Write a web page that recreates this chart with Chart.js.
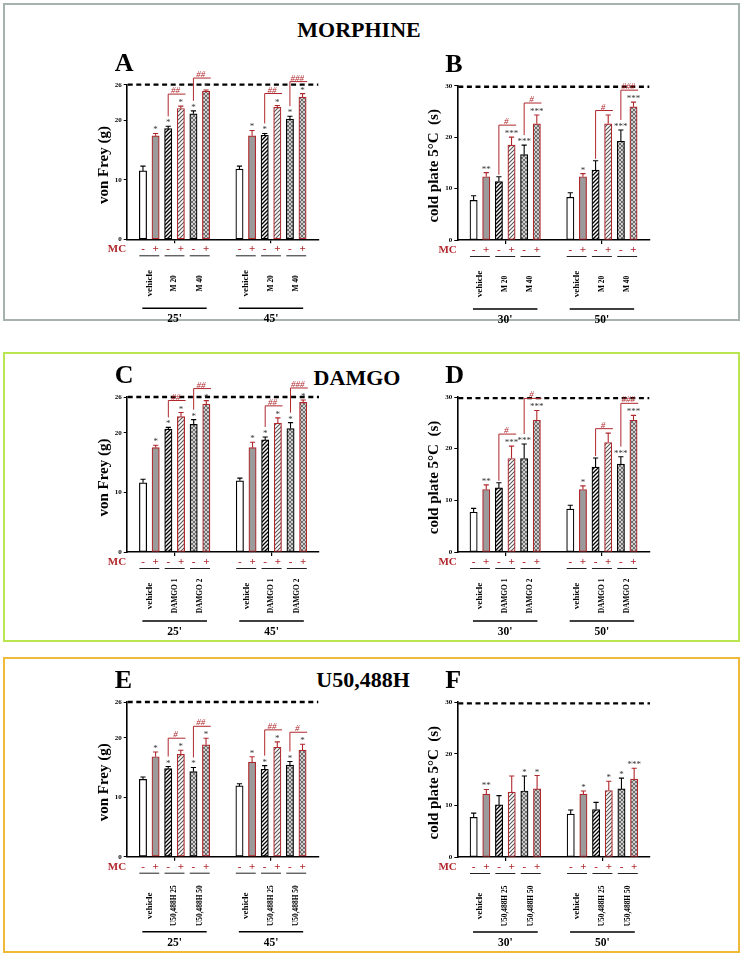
<!DOCTYPE html>
<html><head><meta charset="utf-8">
<script src="https://cdn.jsdelivr.net/npm/chart.js@4.4.0/dist/chart.umd.min.js"></script>
<style>
html,body{margin:0;padding:0;background:#fff}
body{width:743px;height:957px;position:relative;overflow:hidden;font-family:"Liberation Serif",serif}
.box{position:absolute;box-sizing:border-box;border:2px solid}
.title{position:absolute;font:bold 22px "Liberation Serif",serif;transform:translateX(-50%);white-space:nowrap;line-height:22px;color:#000}
canvas{position:absolute}
</style></head><body>
<div class="box" style="left:3px;top:3px;width:737px;height:318px;border-color:#a6b2b0"></div>
<div class="box" style="left:3px;top:352px;width:737px;height:290px;border-color:#b9e650"></div>
<div class="box" style="left:3px;top:657px;width:737px;height:296px;border-color:#efb93a"></div>
<div class="title" style="left:359px;top:19px">MORPHINE</div>
<div class="title" style="left:357px;top:367px">DAMGO</div>
<div class="title" style="left:363px;top:669px">U50,488H</div>
<script>
// ---------- data ----------
const mcSigns = ['-', '+', '-', '+', '-', '+'];
const groupsVonFrey = ["25'", "45'"];
const groupsColdPlate = ["30'", "50'"];
const morphineLabels = ['vehicle', 'M 20', 'M 40'];
const damgoLabels = ['vehicle', 'DAMGO 1', 'DAMGO 2'];
const u50Labels = ['vehicle', 'U50,488H 25', 'U50,488H 50'];
const vonFreyTicks = [0, 10, 20, 26];
const coldPlateTicks = [0, 10, 20, 30];
const vonFreyCutoff = 26;
const coldPlateCutoff = 29.8;

// A: morphine, von Frey
const aMeans = [11.5, 17.4, 18.6, 22.0, 21.1, 24.9, 11.8, 17.4, 17.5, 22.2, 20.2, 23.9];
const aSem   = [0.8, 0.4, 0.4, 0.4, 0.5, 0.2, 0.5, 0.9, 0.3, 0.3, 0.5, 0.6];
const aStars = ['', '*', '*', '*', '*', '*', '', '*', '*', '*', '*', '*'];
const aHashes = ['##', '##', '##', '###'];
// B: morphine, cold plate
const bMeans = [7.7, 12.3, 11.35, 18.45, 16.6, 22.6, 8.3, 12.3, 13.6, 22.6, 19.2, 25.9];
const bSem   = [0.9, 0.8, 0.95, 1.55, 1.85, 1.7, 0.9, 0.6, 1.8, 1.7, 2.2, 0.9];
const bStars = ['', '**', '', '***', '***', '***', '', '*', '', '', '***', '***'];
const bHashes = ['#', '#', '#', '###'];
// C: DAMGO, von Frey
const cMeans = [11.6, 17.5, 20.6, 22.7, 21.4, 24.8, 11.95, 17.5, 18.8, 21.6, 20.7, 25.1];
const cSem   = [0.6, 0.4, 0.3, 0.7, 0.8, 0.6, 0.45, 0.9, 0.5, 0.9, 1.0, 0.4];
const cStars = ['', '*', '*', '*', '*', '*', '', '*', '*', '*', '*', '*'];
const cHashes = ['##', '##', '##', '###'];
// D: DAMGO, cold plate
const dMeans = [7.7, 12.1, 12.4, 18.1, 18.1, 25.5, 8.3, 12.1, 16.45, 21.2, 17.0, 25.5];
const dSem   = [0.75, 0.9, 1.0, 2.4, 2.8, 1.9, 0.75, 0.7, 1.75, 1.8, 1.45, 0.95];
const dStars = ['', '**', '', '***', '***', '***', '', '*', '', '', '***', '***'];
const dHashes = ['#', '#', '#', '###'];
// E: U50,488H, von Frey
const eMeans = [13.0, 16.8, 14.8, 17.2, 14.3, 18.8, 11.9, 15.9, 14.7, 18.4, 15.4, 17.9];
const eSem   = [0.4, 0.8, 0.35, 0.7, 0.7, 1.1, 0.35, 0.9, 0.6, 0.9, 0.6, 1.0];
const eStars = ['', '*', '*', '*', '*', '*', '', '*', '*', '*', '*', '*'];
const eHashes = ['#', '##', '##', '#'];
// F: U50,488H, cold plate
const fMeans = [7.7, 12.2, 10.1, 12.6, 12.8, 13.2, 8.3, 12.2, 9.2, 12.9, 13.2, 15.1];
const fSem   = [0.8, 0.9, 1.8, 3.1, 2.9, 2.6, 0.8, 0.6, 1.4, 1.8, 2.1, 2.1];
const fStars = ['', '**', '', '', '*', '*', '', '*', '', '*', '*', '***'];
const fHashes = ['', '', '', ''];

// ---------- layout / style ----------
const RED = '#b0282d';
const GRAY = '#9b9b9b';
const SERIF = '"Liberation Serif", "Times New Roman", serif';
const STRIDE = 7.65;      // slots between first bars of the two time groups
const BAR_W = 7.3;
const Y_W = 20;

function slot(i) { return (i % 6) + Math.floor(i / 6) * STRIDE; }

function makePattern(kind) {
  const c = document.createElement('canvas');
  c.width = 4; c.height = 4;
  const g = c.getContext('2d');
  if (kind === 'cross') {
    g.fillStyle = '#cfcfcf'; g.fillRect(0, 0, 4, 4);
    g.strokeStyle = '#555'; g.lineWidth = 0.8;
    g.beginPath();
    g.moveTo(-1, 5); g.lineTo(5, -1); g.moveTo(-1, 1); g.lineTo(1, -1); g.moveTo(3, 5); g.lineTo(5, 3);
    g.moveTo(-1, -1); g.lineTo(5, 5); g.moveTo(3, -1); g.lineTo(5, 1); g.moveTo(-1, 3); g.lineTo(1, 5);
    g.stroke();
  } else {
    g.fillStyle = '#fff'; g.fillRect(0, 0, 4, 4);
    g.strokeStyle = kind === 'stripeBlack' ? '#000' : '#555';
    g.lineWidth = kind === 'stripeBlack' ? 1.3 : 1.1;
    g.beginPath();
    g.moveTo(-1, 5); g.lineTo(5, -1); g.moveTo(-1, 1); g.lineTo(1, -1); g.moveTo(3, 5); g.lineTo(5, 3);
    g.stroke();
  }
  return g.createPattern(c, 'repeat');
}
const patStripeBlack = makePattern('stripeBlack');
const patStripeGray = makePattern('stripeGray');
const patCross = makePattern('cross');

function fillFor(i) {
  const j = i % 6, kind = Math.floor(j / 2), mc = j % 2;
  if (kind === 0) return mc ? GRAY : '#ffffff';
  if (kind === 1) return mc ? patStripeGray : patStripeBlack;
  return patCross;
}
function lineFor(i) { return (i % 2) ? RED : '#000'; }

const panels = [
  {letter: 'A', canvas: [60, 42, 290, 285], area: [126.7, 84.7, 318.3, 239.3], means: aMeans, sem: aSem, stars: aStars, hashes: aHashes,
   ticks: vonFreyTicks, cutoff: vonFreyCutoff, yTitle: 'von Frey (g)', labels: morphineLabels, groups: groupsVonFrey, labOff: 44, lineOff: 69},
  {letter: 'B', canvas: [390, 42, 300, 285], area: [457.3, 85.7, 649.3, 240], means: bMeans, sem: bSem, stars: bStars, hashes: bHashes,
   ticks: coldPlateTicks, cutoff: coldPlateCutoff, yTitle: 'cold plate 5\u00B0C  (s)', labels: morphineLabels, groups: groupsColdPlate, labOff: 44, lineOff: 69},
  {letter: 'C', canvas: [60, 356, 290, 285], area: [126.7, 397, 319, 552], means: cMeans, sem: cSem, stars: cStars, hashes: cHashes,
   ticks: vonFreyTicks, cutoff: vonFreyCutoff, yTitle: 'von Frey (g)', labels: damgoLabels, groups: groupsVonFrey, labOff: 44, lineOff: 69},
  {letter: 'D', canvas: [390, 356, 300, 285], area: [457.3, 397, 649.3, 552], means: dMeans, sem: dSem, stars: dStars, hashes: dHashes,
   ticks: coldPlateTicks, cutoff: coldPlateCutoff, yTitle: 'cold plate 5\u00B0C  (s)', labels: damgoLabels, groups: groupsColdPlate, labOff: 44, lineOff: 69},
  {letter: 'E', canvas: [60, 660, 290, 295], area: [126.7, 702, 318.3, 856.7], means: eMeans, sem: eSem, stars: eStars, hashes: eHashes,
   ticks: vonFreyTicks, cutoff: vonFreyCutoff, yTitle: 'von Frey (g)', labels: u50Labels, groups: groupsVonFrey, labOff: 49, lineOff: 75},
  {letter: 'F', canvas: [390, 660, 300, 295], area: [457.3, 702.3, 650, 857], means: fMeans, sem: fSem, stars: fStars, hashes: fHashes,
   ticks: coldPlateTicks, cutoff: coldPlateCutoff, yTitle: 'cold plate 5\u00B0C  (s)', labels: u50Labels, groups: groupsColdPlate, labOff: 49, lineOff: 75}
];

function decor(P) {
  return {
    id: 'decor',
    afterDatasetsDraw(chart) {
      const ctx = chart.ctx, ca = chart.chartArea, xs = chart.scales.x, ys = chart.scales.y;
      const half = BAR_W / 2;
      const n = P.means.length;
      const xc = i => xs.getPixelForValue(slot(i));
      const yTop = i => ys.getPixelForValue(P.means[i] + P.sem[i]);
      ctx.save();
      // cut-off dashed line
      ctx.strokeStyle = '#000'; ctx.lineWidth = 2.3; ctx.setLineDash([5, 3.6]);
      const yc = ys.getPixelForValue(P.cutoff);
      ctx.beginPath(); ctx.moveTo(ca.left + 1, yc); ctx.lineTo(ca.right, yc); ctx.stroke();
      ctx.setLineDash([]);
      // error bars
      for (let i = 0; i < n; i++) {
        const x = xc(i), y0 = ys.getPixelForValue(P.means[i]), y1 = yTop(i);
        ctx.strokeStyle = lineFor(i); ctx.lineWidth = 1.1;
        ctx.beginPath(); ctx.moveTo(x, y0); ctx.lineTo(x, y1);
        ctx.moveTo(x - 2.6, y1); ctx.lineTo(x + 2.6, y1); ctx.stroke();
      }
      // significance stars
      ctx.fillStyle = '#333'; ctx.font = '9px ' + SERIF; ctx.textAlign = 'center'; ctx.textBaseline = 'alphabetic';
      for (let i = 0; i < n; i++) {
        if (P.stars[i]) ctx.fillText(P.stars[i], xc(i), yTop(i) - 1);
      }
      // # brackets (drug -MC vs +MC)
      ctx.strokeStyle = RED; ctx.fillStyle = RED; ctx.lineWidth = 1;
      ctx.font = 'italic 9px ' + SERIF;
      for (let g = 0; g < 2; g++) {
        for (let p = 1; p <= 2; p++) {
          const lab = P.hashes[g * 2 + p - 1];
          if (!lab) continue;
          const i = g * 6 + p * 2, k = i + 1;
          const xi = xc(i), xk = xc(k);
          const yb = yTop(i) - (P.stars[i] ? 10 : 2);
          const yl = yTop(k) - (P.stars[k] ? 12 : 4.5);
          ctx.beginPath(); ctx.moveTo(xi, yb); ctx.lineTo(xi, yl); ctx.lineTo(xk + half + 1, yl); ctx.stroke();
          ctx.fillText(lab, (xi + xk) / 2 + 1, yl - 1);
        }
      }
      // below the axis
      const Y0 = ca.bottom;
      ctx.fillStyle = RED; ctx.font = 'bold 11px ' + SERIF; ctx.textBaseline = 'middle';
      ctx.textAlign = 'right'; ctx.fillText('MC', ca.left - 0.5, Y0 + 10);
      ctx.textAlign = 'center';
      for (let i = 0; i < n; i++) ctx.fillText(mcSigns[i % 6], xc(i), Y0 + 10);
      ctx.strokeStyle = '#222'; ctx.lineWidth = 1;
      for (let g = 0; g < 2; g++) {
        for (let p = 0; p < 3; p++) {
          const a = g * 6 + p * 2, b = a + 1;
          ctx.beginPath(); ctx.moveTo(xc(a) - half, Y0 + 16.5); ctx.lineTo(xc(b) + half, Y0 + 16.5); ctx.stroke();
          const mx = (xc(a) + xc(b)) / 2;
          ctx.save();
          ctx.translate(mx, Y0 + P.labOff); ctx.rotate(-Math.PI / 2);
          ctx.fillStyle = '#000';
          ctx.font = 'bold ' + (p === 0 ? 9 : 7.4) + 'px ' + SERIF;
          ctx.textAlign = 'center'; ctx.textBaseline = 'middle';
          ctx.fillText(P.labels[p], 0, 0);
          ctx.restore();
        }
        const x0 = xc(g * 6) - half + 3, x1 = xc(g * 6 + 5) + half - 3;
        ctx.strokeStyle = '#000'; ctx.lineWidth = 1.6;
        ctx.beginPath(); ctx.moveTo(x0, Y0 + P.lineOff); ctx.lineTo(x1, Y0 + P.lineOff); ctx.stroke();
        ctx.fillStyle = '#000'; ctx.font = 'bold 11.5px ' + SERIF; ctx.textAlign = 'center'; ctx.textBaseline = 'middle';
        ctx.fillText(P.groups[g], (x0 + x1) / 2, Y0 + P.lineOff + 11);
        ctx.strokeStyle = '#222'; ctx.lineWidth = 1;
      }
      // panel letter
      ctx.fillStyle = '#000'; ctx.font = 'bold 26px ' + SERIF; ctx.textAlign = 'left'; ctx.textBaseline = 'alphabetic';
      ctx.fillText(P.letter, ca.left - 12, ca.top - 14);
      // y-axis title
      ctx.save();
      ctx.translate(ca.left - 23, (ca.top + ca.bottom) / 2 + 3); ctx.rotate(-Math.PI / 2);
      ctx.font = 'bold 15px ' + SERIF; ctx.textAlign = 'center'; ctx.textBaseline = 'middle';
      ctx.fillText(P.yTitle, 0, 0);
      ctx.restore();
      ctx.restore();
    }
  };
}

panels.forEach(P => {
  const [cl, ct, cw, chh] = P.canvas;
  const [al, at, ar, ab] = P.area;
  const cv = document.createElement('canvas');
  cv.width = cw; cv.height = chh;
  cv.style.left = cl + 'px'; cv.style.top = ct + 'px';
  cv.style.width = cw + 'px'; cv.style.height = chh + 'px';
  document.body.appendChild(cv);
  const ymax = P.ticks[P.ticks.length - 1];
  new Chart(cv.getContext('2d'), {
    type: 'bar',
    data: {
      datasets: [{
        data: P.means.map((v, i) => ({x: slot(i), y: v})),
        backgroundColor: P.means.map((v, i) => fillFor(i)),
        borderColor: P.means.map((v, i) => lineFor(i)),
        borderWidth: 1.2,
        borderSkipped: false,
        barThickness: BAR_W
      }]
    },
    options: {
      responsive: false, animation: false, devicePixelRatio: 1,
      layout: {padding: {left: al - cl - Y_W, top: at - ct, right: cl + cw - ar, bottom: ct + chh - ab}},
      plugins: {legend: {display: false}, tooltip: {enabled: false}},
      scales: {
        x: {
          type: 'linear', min: -1.29, max: 5 + STRIDE + 1.25, offset: false,
          afterBuildTicks(s) { s.ticks = [{value: 2.5}, {value: 2.5 + STRIDE}]; },
          afterFit(s) { s.height = 0; },
          ticks: {display: false},
          grid: {drawOnChartArea: false, drawTicks: true, tickLength: 4, color: '#000', lineWidth: 1.2, offset: false},
          border: {color: '#000', width: 1.6}
        },
        y: {
          min: 0, max: ymax,
          afterBuildTicks(s) { s.ticks = P.ticks.map(v => ({value: v})); },
          afterFit(s) { s.width = Y_W; },
          ticks: {font: {family: SERIF, size: 7, weight: 'bold'}, color: '#000', padding: 2},
          grid: {drawOnChartArea: false, drawTicks: true, tickLength: 3, color: '#000', lineWidth: 1},
          border: {color: '#000', width: 1.6}
        }
      }
    },
    plugins: [decor(P)]
  });
});
</script>
</body></html>
